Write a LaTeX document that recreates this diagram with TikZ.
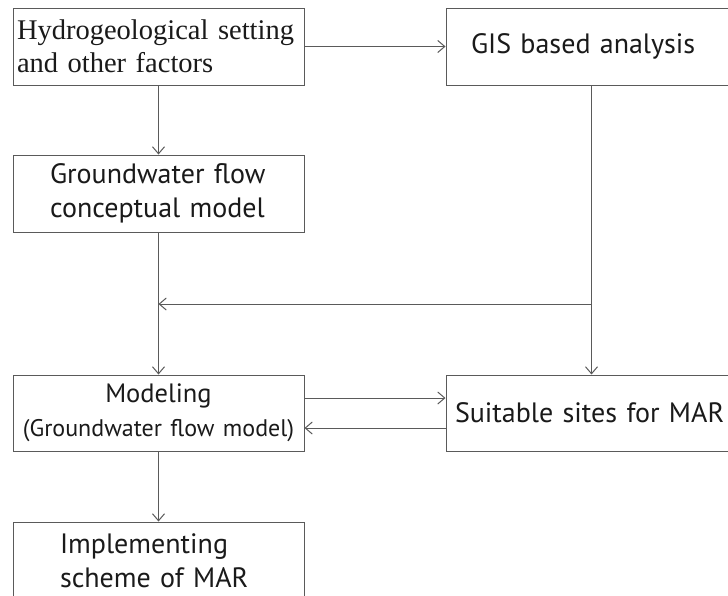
\documentclass[tikz,border=0pt]{standalone}
\usepackage{fontspec}
\setmainfont{Liberation Serif}
\newfontfamily\boxsans[WordSpace=1.8]{PT Sans}
\newfontfamily\modsans[WordSpace=1.3]{PT Sans}
\usetikzlibrary{arrows.meta}
\definecolor{linegray}{HTML}{5A5A5A}
\definecolor{txt}{HTML}{1A1A1A}
\tikzset{
  box/.style={draw=linegray, line width=1pt, rectangle, minimum width=291pt, minimum height=77pt, text=txt, inner ysep=0pt},
  serifbox/.style={box, font=\fontsize{28.5}{33}\selectfont},
  sansbox/.style={box, font=\boxsans\fontsize{28}{34}\selectfont},
  arr/.style={draw=linegray, line width=1pt, -{Straight Barb[length=7pt,width=12pt]}},
  con/.style={draw=linegray, line width=1pt}
}
\begin{document}
\begin{tikzpicture}[x=1pt,y=-1pt]
\useasboundingbox (0,0) rectangle (728,595);
\clip (0,0) rectangle (728,595);
\fill[white] (0,0) rectangle (728,595);
\node[serifbox, align=left, text width=283pt, inner xsep=4pt] (hyd) at (158.5,46.5) {Hydrogeological setting\\and other factors};
\node[sansbox, align=left, text width=241pt, inner xsep=25pt] (gis) at (591.5,46.5) {GIS based analysis};
\node[sansbox, align=left, text width=217pt, inner xsep=37pt] (gw) at (158.5,193.5) {Groundwater flow\\conceptual model};
\node[box, font=\modsans\fontsize{26.5}{34}\selectfont, align=center, inner xsep=1pt, minimum height=76pt] (mod) at (158.5,413) {Modeling\\{\fontsize{24}{34}\selectfont (Groundwater flow model)}};
\node[sansbox, align=left, text width=283pt, inner xsep=4pt, minimum height=76pt] (suit) at (591.5,413) {\hspace*{5pt}Suitable sites for MAR};
\node[sansbox, align=left, text width=197pt, inner xsep=47pt] (impl) at (158.5,560.5) {Implementing\\scheme of MAR};
\coordinate (j1) at (592,304);
\coordinate (j2) at (158.5,304);
\draw[arr] (hyd) -- (gis);
\draw[arr] (hyd.south) -- (gw.north);
\draw[arr] (gis.south) -- (suit.north);
\draw[arr] (j1) -- (j2);
\draw[arr] (gw.south) -- (mod.north);
\draw[arr] ([yshift=15pt]mod.east) -- ([yshift=15pt]suit.west);
\draw[arr] ([yshift=-15pt]suit.west) -- ([yshift=-15pt]mod.east);
\draw[arr] (mod.south) -- (impl.north);
\end{tikzpicture}
\end{document}
